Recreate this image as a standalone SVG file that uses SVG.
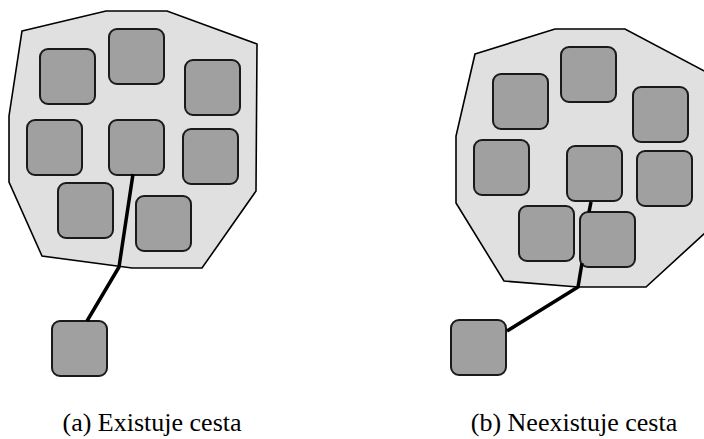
<svg xmlns="http://www.w3.org/2000/svg" width="704" height="439" viewBox="0 0 704 439">
<style>
.region{fill:#e0e0e0;stroke:#000;stroke-width:1.6;stroke-linejoin:miter}
.n{fill:#a0a0a0;stroke:#1a1a1a;stroke-width:2}
.path{fill:none;stroke:#000;stroke-width:3.5;stroke-linejoin:round}
.cap{font-family:"Liberation Serif","DejaVu Serif",serif;font-size:26px;fill:#000;text-anchor:middle}
</style>
<defs>
<rect id="sq" width="55" height="55" rx="8" ry="8"/>
</defs>
<g id="panel-a">
<polygon id="region-a" class="region" points="22,31 106,11 167,11 257,44 256,191 202,268 132,268 42,256 9,182 9,116"/>
<g id="a1"><use href="#sq" class="n" x="40" y="49"/></g>
<g id="a2"><use href="#sq" class="n" x="109" y="29"/></g>
<g id="a3"><use href="#sq" class="n" x="185" y="60"/></g>
<g id="a4"><use href="#sq" class="n" x="27" y="120"/></g>
<g id="a5"><use href="#sq" class="n" x="109" y="120"/></g>
<g id="a6"><use href="#sq" class="n" x="183" y="129"/></g>
<g id="a7"><use href="#sq" class="n" x="58" y="183"/></g>
<g id="a8"><use href="#sq" class="n" x="136" y="196"/></g>
<g id="a-out"><use href="#sq" class="n" x="52" y="321"/></g>
<g id="connectors-a"><polyline class="path" points="133,174 119,267 87,321"/></g>
<text class="cap" x="152" y="431">(a) Existuje cesta</text>
</g>
<g id="panel-b">
<polygon id="region-b" class="region" points="475,54 555,29 625,29 706,72 706,232 646,287 578,287 504,281 456,203 456,136"/>
<g id="b1"><use href="#sq" class="n" x="493" y="74"/></g>
<g id="b2"><use href="#sq" class="n" x="561" y="47"/></g>
<g id="b3"><use href="#sq" class="n" x="633" y="87"/></g>
<g id="b4"><use href="#sq" class="n" x="474" y="140"/></g>
<g id="b5"><use href="#sq" class="n" x="567" y="146"/></g>
<g id="b6"><use href="#sq" class="n" x="637" y="151"/></g>
<g id="b7"><use href="#sq" class="n" x="519" y="206"/></g>
<g id="b8"><use href="#sq" class="n" x="580" y="212"/></g>
<g id="b-out"><use href="#sq" class="n" x="451" y="320"/></g>
<g id="connectors-b"><polyline class="path" points="591,202 589,212"/><polyline class="path" points="582,263 578,287 507,331"/></g>
<text class="cap" x="574" y="431">(b) Neexistuje cesta</text>
</g>
</svg>
